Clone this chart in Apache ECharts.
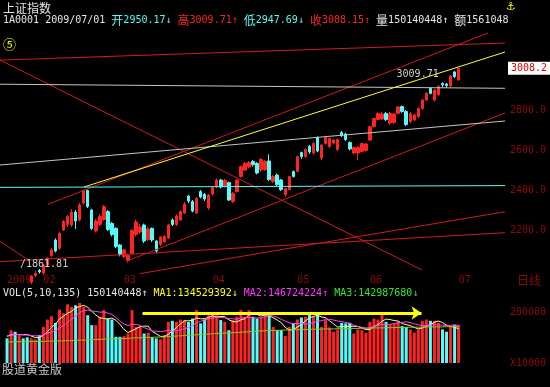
<!DOCTYPE html>
<html><head><meta charset="utf-8">
<script src="https://cdn.jsdelivr.net/npm/echarts@6/dist/echarts.min.js"></script>
<style>html,body{margin:0;padding:0;background:#000;}#c{width:550px;height:387px;}</style>
</head><body><div id="c"></div>
<script>
// ---------------- DATA ----------------
const dates = [
'2009/01/13','2009/01/14','2009/01/15','2009/01/16','2009/01/19','2009/01/20','2009/01/21','2009/01/22','2009/01/23',
'2009/02/02','2009/02/03','2009/02/04','2009/02/05','2009/02/06','2009/02/09','2009/02/10','2009/02/11','2009/02/12','2009/02/13',
'2009/02/16','2009/02/17','2009/02/18','2009/02/19','2009/02/20','2009/02/23','2009/02/24','2009/02/25','2009/02/26','2009/02/27',
'2009/03/02','2009/03/03','2009/03/04','2009/03/05','2009/03/06','2009/03/09','2009/03/10','2009/03/11','2009/03/12','2009/03/13',
'2009/03/16','2009/03/17','2009/03/18','2009/03/19','2009/03/20','2009/03/23','2009/03/24','2009/03/25','2009/03/26','2009/03/27',
'2009/03/30','2009/03/31',
'2009/04/01','2009/04/02','2009/04/03','2009/04/07','2009/04/08','2009/04/09','2009/04/10','2009/04/13','2009/04/14','2009/04/15',
'2009/04/16','2009/04/17','2009/04/20','2009/04/21','2009/04/22','2009/04/23','2009/04/24','2009/04/27','2009/04/28','2009/04/29','2009/04/30',
'2009/05/04','2009/05/05','2009/05/06','2009/05/07','2009/05/08','2009/05/11','2009/05/12','2009/05/13','2009/05/14','2009/05/15',
'2009/05/18','2009/05/19','2009/05/20','2009/05/21','2009/05/22','2009/05/25','2009/05/26','2009/05/27',
'2009/06/01','2009/06/02','2009/06/03','2009/06/04','2009/06/05','2009/06/08','2009/06/09','2009/06/10','2009/06/11','2009/06/12',
'2009/06/15','2009/06/16','2009/06/17','2009/06/18','2009/06/19','2009/06/22','2009/06/23','2009/06/24','2009/06/25','2009/06/26',
'2009/06/29','2009/06/30',
'2009/07/01'];

const opens = [
1880,1866,1915,1912,1958,1952,1940,1972,1998,
1985,2025,2072,2150,2108,2200,2228,2225,2290,2250,2335,2397,2300,2195,2228,2252,2292,2233,2208,2125,
2068,2048,2083,2178,2190,2225,2152,2208,2145,2128,2142,2160,2250,2227,2250,2285,2370,2342,2285,2392,2378,2310,
2380,2417,2450,2420,2437,2343,2392,2467,2500,2515,2542,2533,2500,2502,2545,2443,2475,2450,2377,2402,2492,
2493,2587,2568,2618,2585,2662,2560,2633,2618,2635,2602,2687,2680,2637,2585,2585,2593,2598,
2650,2717,2753,2755,2782,2735,2738,2783,2817,2793,2742,2750,2767,2808,2850,2908,2850,2877,2933,2930,2920,2990,
2950.17];
const closes = [
1863,1921,1909,1954,1955,1945,1969,1982,1990,
2025,2058,2100,2095,2183,2242,2267,2290,2245,2325,2398,2318,2208,2245,2267,2317,2202,2177,2118,2077,
2100,2072,2198,2240,2215,2145,2205,2150,2095,2165,2167,2225,2228,2270,2292,2330,2345,2295,2358,2365,2355,2375,
2413,2450,2415,2447,2350,2383,2450,2517,2533,2537,2527,2485,2553,2542,2452,2467,2427,2402,2407,2467,2468,
2567,2567,2602,2590,2632,2595,2625,2662,2657,2650,2652,2672,2652,2605,2612,2612,2632,2630,
2716,2757,2782,2780,2752,2782,2780,2815,2793,2727,2782,2775,2808,2850,2883,2883,2900,2917,2925,2922,2970,2967,
3008.15];
const lows = [
1861.81,1862,1898,1905,1942,1935,1930,1965,1982,
1975,2018,2066,2088,2102,2195,2215,2215,2205,2242,2328,2310,2200,2188,2220,2245,2195,2168,2110,2068,
2060,2037.02,2078,2168,2180,2135,2145,2140,2083,2120,2135,2155,2220,2220,2245,2280,2335,2288,2280,2358,2345,2300,
2372,2410,2408,2412,2345,2335,2388,2462,2495,2508,2518,2478,2490,2495,2445,2435,2420,2395,2365,2398,2462,
2490,2555,2560,2580,2578,2588,2550,2628,2610,2628,2595,2665,2645,2598,2578,2550,2588,2592,
2645,2712,2748,2750,2745,2725,2730,2778,2786,2720,2735,2745,2760,2800,2845,2878,2842,2870,2912,2910,2915,2960,
2947.69];
const highs = [
1885,1925,1925,1960,1972,1962,1975,1995,2005,
2030,2064,2110,2158,2190,2250,2275,2305,2300,2335,2400,2402.55,2306,2255,2278,2325,2300,2240,2215,2130,
2105,2082,2205,2252,2230,2232,2215,2213,2150,2170,2175,2232,2258,2278,2298,2340,2375,2350,2365,2400,2385,2380,
2420,2458,2456,2455,2442,2390,2455,2522,2540,2545,2550,2540,2560,2550,2578,2475,2482,2455,2412,2472,2498,
2572,2592,2608,2625,2640,2668,2630,2668,2662,2655,2658,2695,2686,2642,2618,2620,2638,2635,
2722,2762,2788,2790,2790,2790,2785,2820,2822,2800,2790,2782,2812,2855,2890,2912,2905,2925,2938,2935,2975,2995,
3009.71];
// volume, millions
const volumes = [
97,129,123,110,97,101,97,93,110,
142,171,184,158,210,195,231,221,227,236,221,188,149,149,182,208,175,171,103,103,
106,116,208,142,142,116,119,101,97,93,110,162,166,162,171,169,162,175,208,156,171,188,
201,188,169,162,129,169,182,208,182,208,182,175,179,201,195,142,129,129,106,142,156,
171,179,182,201,184,195,142,169,140,123,132,158,156,158,116,132,129,119,
162,175,171,195,162,153,153,162,145,142,132,119,132,166,171,166,166,158,132,123,142,149,
150.14];
const volMA5 = [
105,110,113,112,111,112,106,100,100,
109,123,140,153,173,184,196,203,217,222,227,219,204,189,178,175,173,177,168,152,
132,120,127,135,143,145,145,124,115,105,104,113,126,139,154,166,166,168,177,174,174,180,
185,181,183,182,170,163,162,170,174,190,192,191,185,189,186,178,169,159,140,130,132,
141,151,166,178,183,188,181,178,166,154,141,144,142,145,144,144,138,131,
132,143,151,164,173,171,167,165,155,151,147,140,134,138,144,151,160,165,159,149,144,141,
134.53];
const volMA10 = [
108,110,112,112,111,110,108,107,106,
110,118,123,127,137,147,160,172,185,198,206,208,204,203,200,201,196,191,179,165,
154,147,152,152,148,139,133,126,125,124,125,129,125,127,130,135,140,147,158,164,170,173,
177,179,179,178,175,174,172,177,178,180,178,177,178,182,188,185,180,172,165,158,155,
155,155,153,154,158,165,166,172,172,169,165,163,160,156,149,143,141,137,
139,144,148,151,152,152,155,158,160,162,159,154,150,147,148,149,150,150,149,147,148,151,
146.72];
const volMA135 = [
83,83,84,84,84,84,85,85,85,85,86,86,86,
87,87,88,88,89,90,90,91,92,92,93,94,94,
95,95,96,96,97,98,99,99,100,101,101,102,102,
103,104,105,106,107,108,109,110,111,112,113,114,115,
116,117,118,118,119,120,121,122,123,124,125,126,127,
128,128,129,129,130,130,131,131,131,132,132,133,133,
133,134,134,134,135,135,135,136,136,136,137,137,137,
138,138,138,139,139,139,140,140,140,141,141,141,141,
142,142,142,142,142,143,143,143,142.99];

const priceTicks = [2200, 2400, 2600, 2800];
const volTickValues = [0, 200];
const volTickTexts = ['X10000', '200000'];

// hand-drawn trend lines: [barIndex, price] pairs (bar 0 = 2009/01/13)
const trendRed = [
  [[-2.5,3049],[123.5,3135]],
  [[-2.5,3057.5],[102.9,2000]],
  [[10.15,2328.5],[119.3,3185]],
  [[29.74,2045],[123.5,2785]],
  [[-2.5,2040.6],[123.5,2186.5]],
  [[32.97,1982],[123.5,2291.5]],
  [[-2.5,2152.5],[5.7,2045]]
];
const trendGrey = [
  [[-2.5,2929],[123.5,2908.5]],
  [[-2.5,2523.7],[123.5,2745]]
];
const trendYellow = [[[19.08,2415],[123.5,3090]]];
const trendCyan = [[[-2.5,2413],[123.5,2422]]];
const volArrow = [[33.6,196.7],[102.8,196.7]];

const lastClose = 3008.15;
const highLabel = { date: '2009/07/01', value: 3009.71 };

// ---------------- CHART ----------------
const RED = '#FF2424', CYAN = '#54FCFC', AXR = '#8E0C0C', WHITE = '#E6E6E6';
const MONO = '"DejaVu Sans Mono", monospace';
const CJK = '"Noto Sans CJK SC", sans-serif';
const NL = 2, NR = 11;
const cats = [];
for (let i = 0; i < NL; i++) cats.push('L' + i);
dates.forEach(d => cats.push(d));
for (let i = 0; i < NR; i++) cats.push('R' + i);
const pad = arr => [...Array(NL).fill('-'), ...arr, ...Array(NR).fill('-')];

const monthLabel = {};
dates.forEach((d, i) => {
  const m = d.slice(5, 7);
  if (i === 0) monthLabel[d] = d.slice(0, 4);
  else if (m !== dates[i - 1].slice(5, 7)) monthLabel[d] = m;
});

const candleData = pad(dates.map((d, i) => [opens[i], closes[i], lows[i], highs[i]]));
const volData = pad(dates.map((d, i) => ({ value: volumes[i], itemStyle: { color: closes[i] >= opens[i] ? RED : CYAN } })));

function trend(lines, color) {
  return lines.map(pts => ({
    type: 'line', xAxisIndex: 1, yAxisIndex: 0, data: pts, symbol: 'none', silent: true,
    lineStyle: { color: color, width: 1 }, z: 4
  }));
}
function txt(s, color, family, size) {
  return { color: color, fontFamily: family, fontSize: size, fontWeight: 'normal', lineHeight: 14 };
}
const rich = {
  w: txt('', WHITE, MONO, 10), wz: txt('', WHITE, CJK, 12),
  c: txt('', CYAN, MONO, 10), cz: txt('', CYAN, CJK, 12),
  r: txt('', RED, MONO, 10), rz: txt('', RED, CJK, 12),
  y: txt('', '#FFFF00', MONO, 10), m: txt('', '#FF3CFF', MONO, 10), g: txt('', '#33E633', MONO, 10)
};
function title(text, left, top, style) {
  return { text: text, left: left, top: top, padding: 0, textStyle: Object.assign({ rich: rich, fontWeight: 'normal' }, style || {}) };
}

const chart = echarts.init(document.getElementById('c'), null, { renderer: 'canvas' });
chart.setOption({
  backgroundColor: '#000',
  animation: false,
  title: [
    title('上证指数', 3, 1, txt('', WHITE, CJK, 12)),
    title('{w|1A0001 2009/07/01 }{cz|开}{c|2950.17↓ }{rz|高}{r|3009.71↑ }{cz|低}{c|2947.69↓ }{rz|收}{r|3008.15↑ }{wz|量}{w|150140448↑ }{wz|额}{w|1561048}', 3, 13),
    title('{w|VOL(5,10,135) 150140448↑ }{y|MA1:134529392↓ }{m|MA2:146724224↑ }{g|MA3:142987680↓}', 3, 286),
    title('股道黄金版', 2, 362, txt('', '#C8C8C8', CJK, 12)),
    title('⑤', 3, 37, txt('', '#FFFF00', CJK, 13)),
    title('日线', 517, 273, txt('', AXR, CJK, 12)),
    title('/1861.81', 20, 257, txt('', '#D0D0D0', MONO, 10)),
    title('⚓', 506, 0, txt('', '#FFFF00', '"DejaVu Sans"', 11))
  ],
  grid: [
    { left: -3, right: 45, top: 30, height: 245, outerBoundsMode: 'none', containLabel: false },
    { left: -3, right: 45, top: 302, height: 61, outerBoundsMode: 'none', containLabel: false }
  ],
  xAxis: [
    { type: 'category', gridIndex: 0, data: cats, boundaryGap: true,
      axisLine: { show: false }, axisTick: { show: false }, splitLine: { show: false },
      axisLabel: { show: true, align: 'left', margin: 0, color: AXR, fontFamily: MONO, fontSize: 10,
        interval: (idx, val) => monthLabel[val] !== undefined,
        formatter: val => monthLabel[val] || '' } },
    { type: 'value', gridIndex: 0, min: -2.5, max: 123.5, show: false },
    { type: 'category', gridIndex: 1, data: cats, boundaryGap: true, show: false },
    { type: 'value', gridIndex: 1, min: -2.5, max: 123.5, show: false }
  ],
  yAxis: [
    { type: 'value', gridIndex: 0, position: 'right', min: 1975, max: 3200, interval: 25,
      axisLine: { show: false }, axisTick: { show: false }, splitLine: { show: false },
      axisLabel: { margin: 5, color: AXR, fontFamily: MONO, fontSize: 10,
        formatter: v => priceTicks.indexOf(v) >= 0 ? v.toFixed(1) : '' } },
    { type: 'value', gridIndex: 1, position: 'right', min: 0, max: 240, interval: 200,
      axisLine: { show: false }, axisTick: { show: false }, splitLine: { show: false },
      axisLabel: { margin: 5, color: AXR, fontFamily: MONO, fontSize: 10, showMaxLabel: false,
        formatter: v => { const i = volTickValues.indexOf(v); return i >= 0 ? volTickTexts[i] : ''; } } }
  ],
  series: [
    { type: 'candlestick', xAxisIndex: 0, yAxisIndex: 0, data: candleData, barWidth: 3, clip: true, z: 3,
      itemStyle: { color: RED, color0: CYAN, borderColor: RED, borderColor0: CYAN, borderWidth: 1 },
      markPoint: { symbol: 'circle', symbolSize: 1, itemStyle: { color: 'rgba(0,0,0,0)' },
        label: { show: true, position: 'inside', offset: [-41, 6], color: '#D0D0D0', fontFamily: MONO, fontSize: 10,
          formatter: () => highLabel.value.toFixed(2) },
        data: [{ coord: [highLabel.date, highLabel.value] }] },
      markLine: { symbol: 'none', silent: true, lineStyle: { color: 'rgba(0,0,0,0)', width: 1 },
        label: { show: true, position: 'end', distance: 3, formatter: () => lastClose.toFixed(1),
          color: '#E00000', backgroundColor: '#FFFFFF', padding: [2, 3, 1, 3], fontFamily: MONO, fontSize: 10 },
        data: [{ yAxis: lastClose }] } },
    ...trend(trendRed, '#D01C1C'),
    ...trend(trendGrey, '#C4C4C4'),
    ...trend(trendYellow, '#FFFF30'),
    ...trend(trendCyan, '#54FCFC'),
    { type: 'bar', xAxisIndex: 2, yAxisIndex: 1, data: volData, barWidth: 3, z: 2 },
    { type: 'line', xAxisIndex: 2, yAxisIndex: 1, data: pad(volMA5), symbol: 'none', lineStyle: { color: '#FFFF9A', width: 1 }, z: 5 },
    { type: 'line', xAxisIndex: 2, yAxisIndex: 1, data: pad(volMA10), symbol: 'none', lineStyle: { color: '#FF40FF', width: 1 }, z: 5 },
    { type: 'line', xAxisIndex: 2, yAxisIndex: 1, data: pad(volMA135), symbol: 'none', lineStyle: { color: '#8CC81E', width: 1 }, z: 5 },
    { type: 'line', xAxisIndex: 3, yAxisIndex: 1, data: volArrow, symbol: 'none', lineStyle: { color: 'rgba(0,0,0,0)', width: 0 }, z: 6,
      markLine: { symbol: ['none', 'arrow'], symbolSize: 10, silent: true,
        lineStyle: { color: '#FFFF00', width: 3, type: 'solid' }, label: { show: false },
        data: [[{ coord: volArrow[0] }, { coord: volArrow[1] }]] } }
  ]
});
</script>
</body></html>
